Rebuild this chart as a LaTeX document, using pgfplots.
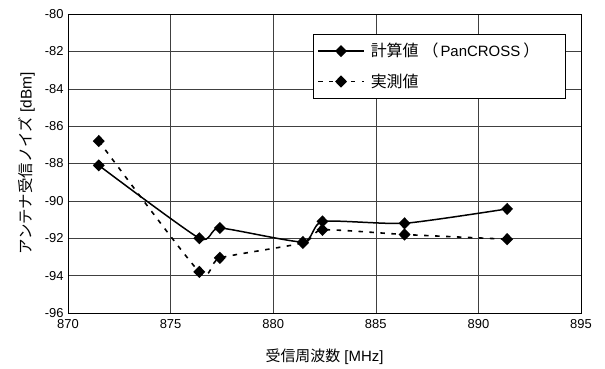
\documentclass[border=0pt]{standalone}
\usepackage{fontspec}
\setmainfont{Liberation Sans}
\newfontfamily\jp{Noto Sans CJK JP}
\usepackage{pgfplots}
\pgfplotsset{compat=1.18}
\newcommand{\jpl}[1]{{\jp\fontsize{16}{18}\selectfont #1}}
\begin{document}
\fontsize{13}{15}\selectfont
\begin{tikzpicture}
\begin{axis}[
  name=ax,
  scale only axis,
  width=513bp, height=299bp,
  xmin=870, xmax=895, ymin=-96, ymax=-80,
  xtick={870,875,...,895}, ytick={-96,-94,...,-80},
  grid=major,
  major grid style={black!75, line width=0.5pt},
  axis line style={black, line width=0.6pt},
  tick style={draw=none},
  /pgf/number format/assume math mode=true,
  /pgf/number format/1000 sep={},
  ticklabel style={font=\fontsize{13}{15}\selectfont},
  xticklabel style={yshift=-2bp},
  xlabel={{\jp 受信周波数} [MHz]},
  ylabel={{\jp アンテナ受信ノイズ} [dBm]},
  xlabel style={at={(ticklabel cs:0.5)}, yshift=-11bp, font=\fontsize{15}{17}\selectfont},
  ylabel style={yshift=1bp, font=\fontsize{15.5}{17}\selectfont},
  legend style={at={(rel axis cs:0.4776,0.933)}, anchor=north west, draw=black, line width=0.5pt,
    font=\fontsize{15}{17}\selectfont, row sep=11bp, inner xsep=4bp, inner ysep=7bp},
  legend cell align=left,
  legend image code/.code={
    \draw[#1] (0cm,0cm) -- (1.62cm,0cm);
    \draw[#1, only marks] plot coordinates {(0.81cm,0cm)};
  },
]
\addplot[black, line width=1.5pt, smooth, tension=0.35, mark=diamond*, mark size=5pt, mark options={solid, fill=black, xscale=1.3}]
  coordinates {(871.5,-88.1) (876.4,-92.0) (877.4,-91.45) (881.45,-92.2) (882.4,-91.1) (886.4,-91.2) (891.4,-90.43)};
\addlegendentry{\makebox[192bp][l]{\hspace{4bp}\jpl{計算値}\hspace{4bp}\jpl{（}\hspace{2bp}PanCROSS\hspace{3bp}\jpl{）}}}
\addplot[black, line width=1.6pt, dash pattern=on 4.5pt off 6.5pt, smooth, tension=0.35, mark=diamond*, mark size=5pt, mark options={solid, fill=black, xscale=1.3}]
  coordinates {(871.5,-86.8) (876.4,-93.8) (877.4,-93.05) (881.45,-92.25) (882.4,-91.55) (886.4,-91.8) (891.4,-92.05)};
\addlegendentry{\hspace{4bp}\jpl{実測値}}
\end{axis}
\path ([xshift=-68bp,yshift=-56bp]ax.south west) rectangle ([xshift=24bp,yshift=14bp]ax.north east);
\end{tikzpicture}
\end{document}
